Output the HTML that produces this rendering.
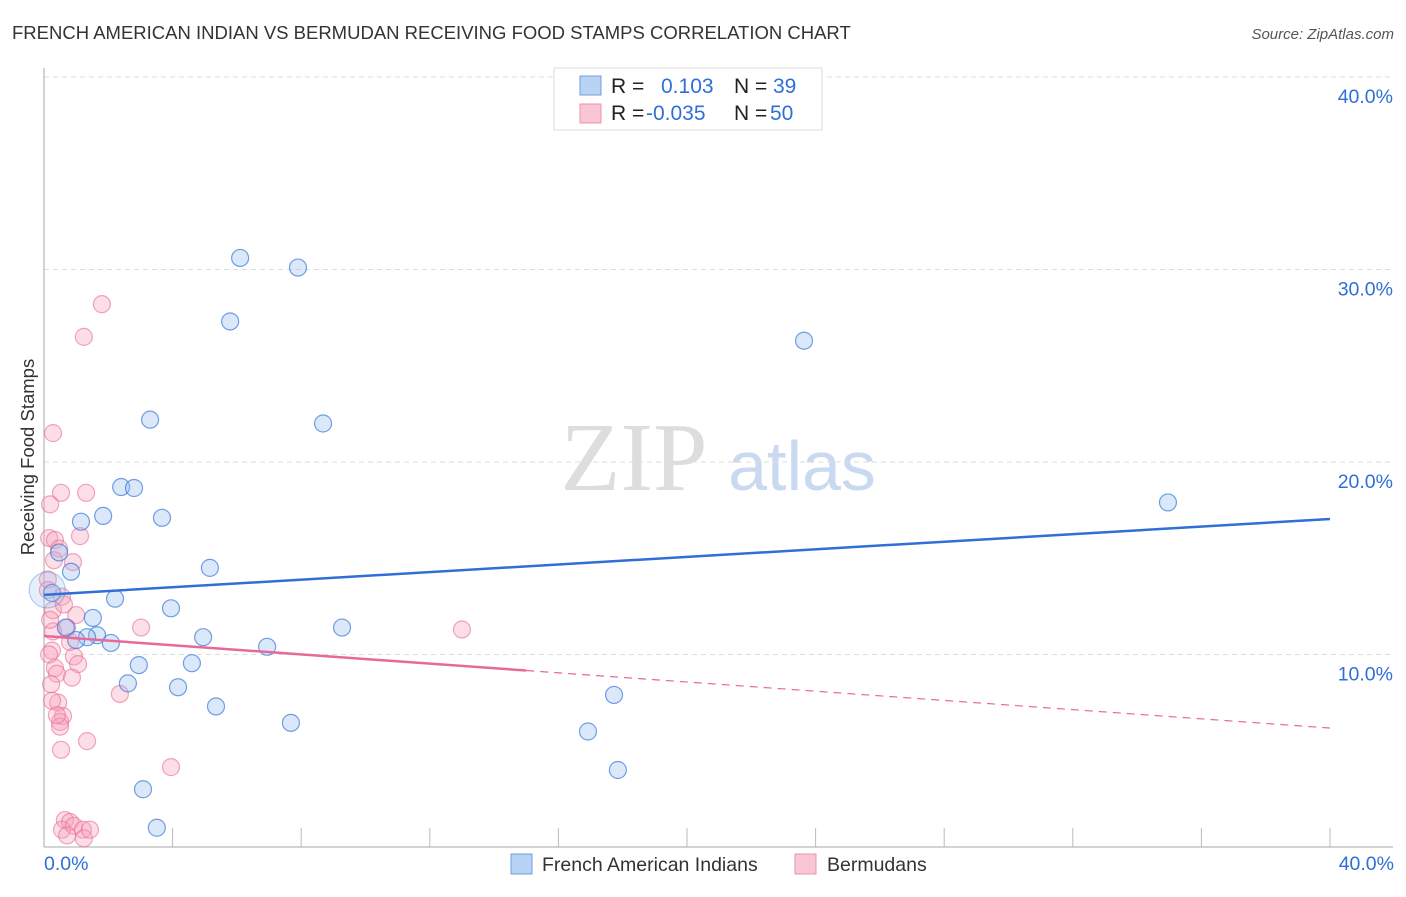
<!DOCTYPE html>
<html><head><meta charset="utf-8"><style>
body{margin:0;background:#fff;width:1406px;height:892px;overflow:hidden;font-family:"Liberation Sans",sans-serif}
</style></head><body>
<svg id="c" width="1406" height="892" xmlns="http://www.w3.org/2000/svg">
<text x="12" y="39" font-size="18.5" fill="#333">FRENCH AMERICAN INDIAN VS BERMUDAN RECEIVING FOOD STAMPS CORRELATION CHART</text>
<text x="1394" y="39" font-size="15" fill="#555" font-style="italic" text-anchor="end">Source: ZipAtlas.com</text>
<text transform="translate(34,457) rotate(-90)" font-size="18.5" fill="#333" text-anchor="middle">Receiving Food Stamps</text>
<g><text x="634" y="490" font-size="98" fill="#ddd" font-family="Liberation Serif,serif" text-anchor="middle">ZIP</text><text x="802" y="490" font-size="70" fill="#c9daf0" text-anchor="middle">atlas</text></g>
<g id="grid"></g><g id="pts"></g><g id="lines"></g>
<g>
<rect x="554" y="68" width="268" height="62" fill="#fff" stroke="#ddd"/>
<rect x="580" y="76" width="21" height="19" fill="#b9d3f5" stroke="#6d9de0"/>
<rect x="580" y="104" width="21" height="19" fill="#f9c6d4" stroke="#eb93ad"/>
<text font-size="21" y="93" fill="#222"><tspan x="611">R =</tspan><tspan x="661" fill="#2f6fd6">0.103</tspan><tspan x="734">N =</tspan><tspan x="773" fill="#2f6fd6">39</tspan></text>
<text font-size="21" y="120" fill="#222"><tspan x="611">R =</tspan><tspan x="646" fill="#2f6fd6">-0.035</tspan><tspan x="734">N =</tspan><tspan x="770" fill="#2f6fd6">50</tspan></text>
</g>
<g>
<rect x="511" y="854" width="21" height="20" fill="#b9d3f5" stroke="#6d9de0"/>
<text x="542" y="871" font-size="19.5" fill="#333">French American Indians</text>
<rect x="795" y="854" width="21" height="20" fill="#f9c6d4" stroke="#eb93ad"/>
<text x="827" y="871" font-size="19.5" fill="#333">Bermudans</text>
</g>
</svg>
<script>
const blueX=[6.10,7.90,5.79,23.64,3.30,8.68,2.40,2.80,34.96,1.84,1.15,3.67,0.47,5.16,0.84,0.25,2.21,3.95,1.52,0.68,9.27,4.95,1.65,1.34,1.0,2.08,6.94,2.95,4.60,2.61,4.17,5.35,17.73,7.68,16.92,17.85,3.08,3.51,0.1];
const blueY=[30.6,30.1,27.3,26.3,22.2,22.0,18.7,18.65,17.9,17.2,16.9,17.1,15.3,14.5,14.3,13.2,12.9,12.4,11.9,11.4,11.4,10.9,11.0,10.9,10.75,10.6,10.4,9.45,9.55,8.5,8.3,7.3,7.9,6.45,6.0,4.0,3.0,1.0,13.35];
const pinkX=[1.80,1.24,0.28,0.53,1.31,0.19,0.16,1.12,0.34,0.47,0.90,0.31,0.12,0.28,0.56,1.0,0.72,0.28,0.81,3.02,13.0,0.93,0.25,0.34,1.06,0.40,0.87,0.22,2.36,0.44,0.59,0.50,0.50,1.34,0.53,3.95,0.65,0.81,0.56,0.93,1.21,0.72,1.24,0.12,0.19,0.40,0.62,0.16,1.43,0.25];
const pinkY=[28.2,26.5,21.5,18.4,18.4,17.8,16.05,16.15,15.95,15.5,14.8,14.9,13.9,12.3,13.0,12.05,11.4,11.2,10.65,11.4,11.3,9.9,10.2,9.3,9.5,9.0,8.8,8.45,7.95,7.5,6.8,6.5,6.25,5.5,5.05,4.15,1.4,1.3,0.9,1.1,0.9,0.6,0.45,13.35,11.8,6.85,12.6,10.0,0.9,7.6];
const yTicks=[10,20,30,40];
const xTickVals=[4,8,12,16,20,24,28,32,36,40];
const blueTrend=[13.1,17.04];
const pinkTrend=[10.96,6.18];
const pinkSolidEnd=15.0;
const X=v=>44+v/40*1286, Y=v=>847-v*19.25;
const NS="http://www.w3.org/2000/svg";
function mk(p,tag,a){const e=document.createElementNS(NS,tag);for(const k in a)e.setAttribute(k,a[k]);p.appendChild(e);return e;}
const g=document.getElementById('grid');
yTicks.forEach(t=>{
 const l=mk(g,'line',{x1:44,x2:1393,y1:Y(t),y2:Y(t),stroke:'#ddd','stroke-dasharray':'5,4'});
 
 
 const tx=mk(g,'text',{x:1393,y:Y(t)+26,'font-size':19.5,fill:'#2f6fd6','text-anchor':'end'});tx.textContent=t.toFixed(1)+'%';
 
 
});
xTickVals.forEach(t=>{
 const l=mk(g,'line',{x1:X(t),x2:X(t),y1:828,y2:847,stroke:'#bbb'});
 
 
});
mk(g,'line',{x1:44,x2:44,y1:68,y2:847,stroke:'#aaa'});
mk(g,'line',{x1:44,x2:1393,y1:847,y2:847,stroke:'#aaa'});
const x0=mk(g,'text',{x:44,y:870,'font-size':19.5,fill:'#2f6fd6'});x0.textContent='0.0%';


const x1=mk(g,'text',{x:1394,y:870,'font-size':19.5,fill:'#2f6fd6','text-anchor':'end'});x1.textContent='40.0%';


const pg=document.getElementById('pts');
pinkX.forEach((v,i)=>{
 const c=mk(pg,'circle',{cx:X(v),cy:Y(pinkY[i]),r:8.5,fill:'rgba(245,160,185,0.35)',stroke:'rgba(232,110,150,0.6)','stroke-width':1.2});
 
 
});
blueX.forEach((v,i)=>{
 const big=i==blueX.length-1;
 const c=mk(pg,'circle',{cx:X(v),cy:Y(blueY[i]),r:big?18:8.5,fill:big?'rgba(150,190,240,0.25)':'rgba(150,190,240,0.35)',stroke:big?'rgba(60,120,215,0.35)':'rgba(60,120,215,0.7)','stroke-width':1.2});
 
 
});
const lg=document.getElementById('lines');
const b=mk(lg,'line',{x1:X(0),y1:Y(blueTrend[0]),x2:X(40),y2:Y(blueTrend[1]),stroke:'#2f6fd6','stroke-width':2.5});


const py=x=>pinkTrend[0]+(pinkTrend[1]-pinkTrend[0])*x/40;
const p1=mk(lg,'line',{x1:X(0),y1:Y(py(0)),x2:X(pinkSolidEnd),y2:Y(py(pinkSolidEnd)),stroke:'#e8689a','stroke-width':2.5});


const p2=mk(lg,'line',{x1:X(pinkSolidEnd),y1:Y(py(pinkSolidEnd)),x2:X(40),y2:Y(py(40)),stroke:'#e8689a','stroke-width':1.2,'stroke-dasharray':'8,6'});


</script>
</body></html>
